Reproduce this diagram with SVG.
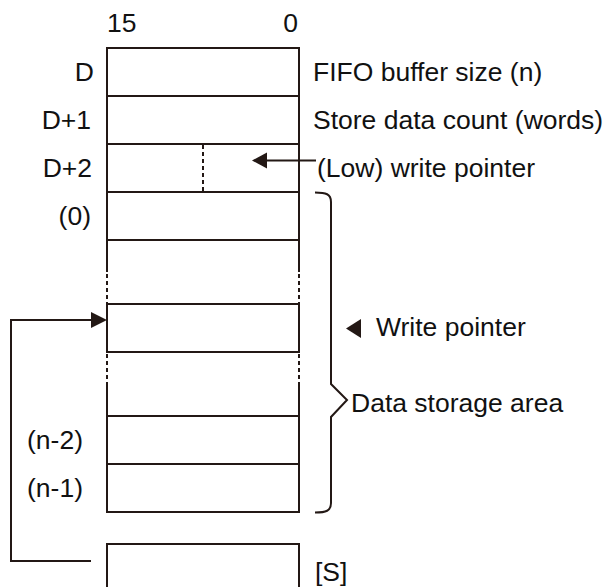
<svg xmlns="http://www.w3.org/2000/svg" width="610" height="587" viewBox="0 0 610 587">
<style>
.t{font-family:"Liberation Sans",Arial,sans-serif;font-size:26.5px;fill:#111}
.e{text-anchor:end}
.ln{stroke:#231815;stroke-width:2;fill:none}
.ds{stroke:#231815;stroke-width:2;fill:none;stroke-dasharray:4 3}
.ah{fill:#231815}
</style>
<rect width="610" height="587" fill="#fff"/>
<g id="bits">
<text class="t" x="107" y="32">15</text>
<text class="t e" x="298" y="32">0</text>
</g>
<g id="reg-D">
<rect class="ln" x="107" y="48" width="192" height="48"/>
<text class="t e" x="94" y="81">D</text>
<text class="t" x="313" y="81">FIFO buffer size (n)</text>
</g>
<g id="reg-D1">
<rect class="ln" x="107" y="96" width="192" height="48"/>
<text class="t e" x="91" y="129">D+1</text>
<text class="t" x="313" y="129">Store data count (words)</text>
</g>
<g id="reg-D2">
<rect class="ln" x="107" y="144" width="192" height="48"/>
<line class="ds" x1="203" y1="145" x2="203" y2="192"/>
<text class="t e" x="92" y="177">D+2</text>
<text class="t" x="317" y="177">(Low) write pointer</text>
</g>
<g id="buf-0">
<rect class="ln" x="107" y="192" width="192" height="48"/>
<text class="t e" x="91" y="225">(0)</text>
</g>
<g id="buf-gap1">
<line class="ln" x1="107" y1="240" x2="107" y2="272"/>
<line class="ln" x1="299" y1="240" x2="299" y2="272"/>
<line class="ds" x1="107" y1="274" x2="107" y2="304"/>
<line class="ds" x1="299" y1="274" x2="299" y2="304"/>
</g>
<g id="buf-wp">
<rect class="ln" x="107" y="304" width="192" height="48"/>
<polygon class="ah" points="346,328.5 361,319 361,338"/>
<text class="t" x="376" y="336">Write pointer</text>
</g>
<g id="buf-gap2">
<line class="ds" x1="107" y1="354" x2="107" y2="384"/>
<line class="ds" x1="299" y1="354" x2="299" y2="384"/>
<line class="ln" x1="107" y1="384" x2="107" y2="416"/>
<line class="ln" x1="299" y1="384" x2="299" y2="416"/>
</g>
<g id="buf-n2">
<rect class="ln" x="107" y="416" width="192" height="48"/>
<text class="t e" x="83" y="449">(n-2)</text>
</g>
<g id="buf-n1">
<rect class="ln" x="107" y="464" width="192" height="48"/>
<text class="t e" x="83" y="497">(n-1)</text>
</g>
<g id="reg-S">
<rect class="ln" x="107" y="544" width="192" height="60"/>
<text class="t" x="315" y="581">[S]</text>
</g>
<g id="brace">
<path class="ln" d="M315,192.5 C326,192.5 331,194 331,202 L331,384 L347,400 L331,417 L331,503 C331,511 326,512.5 315,512.5"/>
<text class="t" x="351" y="412">Data storage area</text>
</g>
<g id="connectors">
<line class="ln" x1="316" y1="160.5" x2="265" y2="160.5"/>
<polygon class="ah" points="252,160.5 267,152.5 267,168.5"/>
<polyline class="ln" points="91,561 11,561 11,320 93,320"/>
<polygon class="ah" points="107,320 91,312 91,328"/>
</g>
</svg>
